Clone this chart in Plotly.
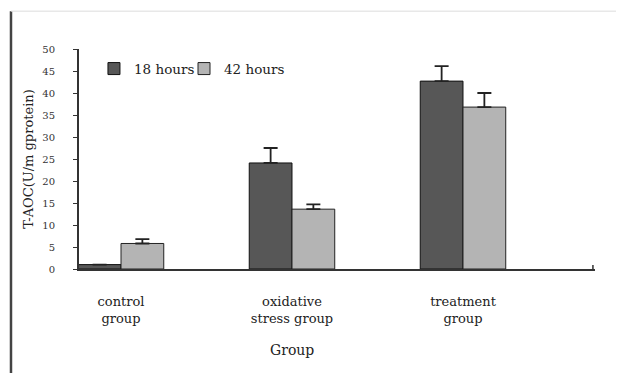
import plotly.graph_objects as go

categories = ["control<br>group", "oxidative<br>stress group", "treatment<br>group"]
series_names = ["18 hours", "42 hours"]
values_18h = [1.0, 24.1, 42.7]
errors_18h = [0.0, 3.4, 3.4]
values_42h = [5.8, 13.6, 36.8]
errors_42h = [1.0, 1.1, 3.2]
y_ticks = [0, 5, 10, 15, 20, 25, 30, 35, 40, 45, 50]

x_idx = list(range(len(categories)))
serif = "DejaVu Serif, serif"
zeros = [0] * len(categories)

fig = go.Figure()
fig.add_trace(go.Bar(
    x=x_idx, y=values_18h, name=series_names[0], legend="legend",
    marker=dict(color="#575757", line=dict(color="#111111", width=1)),
    error_y=dict(type="data", symmetric=False, array=errors_18h, arrayminus=zeros,
                 visible=True, color="#222222", thickness=1.8, width=7),
))
fig.add_trace(go.Bar(
    x=x_idx, y=values_42h, name=series_names[1], legend="legend2",
    marker=dict(color="#b4b4b4", line=dict(color="#222222", width=1)),
    error_y=dict(type="data", symmetric=False, array=errors_42h, arrayminus=zeros,
                 visible=True, color="#222222", thickness=1.8, width=7),
))

legend_style = dict(orientation="h", y=0.91, xanchor="left", yanchor="middle",
                    font=dict(family=serif, size=13.5, color="#222222"),
                    bgcolor="rgba(0,0,0,0)", itemwidth=30)

# page body has an 8px margin, so the figure is offset by 8px in the window
fig.update_layout(
    width=624, height=373,
    margin=dict(l=71, r=37, t=41, b=112),
    paper_bgcolor="white", plot_bgcolor="white",
    barmode="group", bargap=0.5, bargroupgap=0,
    font=dict(family=serif, color="#222222"),
    showlegend=True,
    legend=dict(x=0.029, **legend_style),
    legend2=dict(x=0.2035, **legend_style),
    xaxis=dict(
        range=[-0.2456, 2.772], automargin=False,
        tickmode="array", tickvals=x_idx, ticktext=categories,
        ticks="", showgrid=False, zeroline=False,
        showline=True, linecolor="#333333", linewidth=2,
        tickfont=dict(family=serif, size=13, color="#222222"),
        ticklabelstandoff=19,
    ),
    yaxis=dict(
        range=[0, 50], tickmode="array", tickvals=y_ticks, automargin=False,
        ticks="outside", ticklen=4, tickcolor="#333333", tickwidth=1,
        showgrid=False, zeroline=False,
        showline=True, linecolor="#333333", linewidth=2,
        tickfont=dict(family=serif, size=10, color="#333333"),
        ticklabelstandoff=16,
        title=dict(text="T-AOC(U/m gprotein)", standoff=6,
                   font=dict(family=serif, size=13, color="#222222")),
    ),
    annotations=[
        dict(text="Group", xref="x", yref="paper", x=1, y=-0.37,
             showarrow=False, xanchor="center", yanchor="middle",
             font=dict(family=serif, size=14, color="#222222")),
    ],
    shapes=[
        # image frame
        dict(type="line", xref="paper", yref="paper", x0=-0.1318, x1=-0.1318,
             y0=1.172, y1=-0.48, line=dict(color="#444444", width=2.5)),
        dict(type="line", xref="paper", yref="paper", x0=-0.1318, x1=1.06,
             y0=1.172, y1=1.172, line=dict(color="#dddddd", width=1)),
        dict(type="line", xref="paper", yref="paper", x0=1.050, x1=1.050,
             y0=1.172, y1=-0.48, line=dict(color="#eeeeee", width=1)),
        # small end tick on x axis
        dict(type="line", xref="paper", yref="paper", x0=0.996, x1=0.996,
             y0=0, y1=0.018, line=dict(color="#333333", width=1.5)),
    ],
)

fig.write_html("out.html")
